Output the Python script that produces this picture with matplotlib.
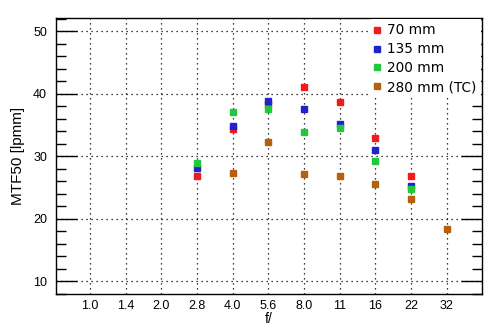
import numpy as np
import matplotlib
matplotlib.use('Agg')
import matplotlib.pyplot as plt
from matplotlib.ticker import MultipleLocator

fstops = ['1.0', '1.4', '2.0', '2.8', '4.0', '5.6', '8.0', '11', '16', '22', '32']

# MTF50 values per focal length (None = not measured)
mtf_70 = [None, None, None, 26.8, 34.4, 38.3, 41.1, 38.7, 32.9, 26.8, None]
mtf_135 = [None, None, None, 28.2, 34.9, 38.9, 37.6, 35.2, 31.0, 25.3, None]
mtf_200 = [None, None, None, 29.0, 37.1, 37.6, 33.9, 34.5, 29.2, 24.7, None]
mtf_280 = [None, None, None, None, 27.4, 32.3, 27.1, 26.8, 25.6, 23.1, 18.4]

series = [('70 mm', mtf_70, '#f01c1c'),
          ('135 mm', mtf_135, '#2222cc'),
          ('200 mm', mtf_200, '#22c83c'),
          ('280 mm (TC)', mtf_280, '#b4600c')]

fig = plt.figure(figsize=(4.94, 3.31), dpi=100)
ax = fig.add_axes([55.5/494, 1-294.3/331, (482.3-55.5)/494, (294.3-18)/331])

xpos = np.arange(len(fstops))
for name, vals, col in series:
    x = [xi for xi, v in zip(xpos, vals) if v is not None]
    y = [v for v in vals if v is not None]
    ax.plot(x, y, 's', color=col, ms=5, mec=col, label=name)

ax.set_xlim(-0.97, 11.0)
ax.set_ylim(7.9, 52.15)
ax.set_xticks(xpos)
ax.set_xticklabels(fstops, family='Liberation Sans', fontsize=9)
ax.yaxis.set_major_locator(MultipleLocator(10))
ax.yaxis.set_minor_locator(MultipleLocator(2))
for lab in ax.get_yticklabels():
    lab.set_family('Liberation Sans')
    lab.set_fontsize(9)
ax.tick_params(axis='x', length=0, pad=4)
ax.tick_params(axis='y', which='major', direction='in', length=15, width=1, right=True, pad=6)
ax.tick_params(axis='y', which='minor', direction='in', length=7, width=1, right=True)
ax.grid(True, which='major', color='black', linestyle=(0, (1, 3)), linewidth=0.9)
for s in ax.spines.values():
    s.set_linewidth(1)

ax.set_xlabel('f/', family='Liberation Sans', fontsize=10, labelpad=0)
ax.set_ylabel('MTF50 [lpmm]', family='Liberation Sans', fontsize=11, labelpad=6)

leg = ax.legend(loc='upper right', frameon=True, fontsize=9.8, handlelength=0.3,
                handletextpad=0.6, borderpad=0.3, labelspacing=0.36,
                markerscale=0.75, borderaxespad=0.1)
leg.get_frame().set_edgecolor('none')
leg.get_frame().set_facecolor('white')
leg.get_frame().set_alpha(1)
leg.get_frame().set_boxstyle('square', pad=0)

fig.savefig('out.png', dpi=100)
